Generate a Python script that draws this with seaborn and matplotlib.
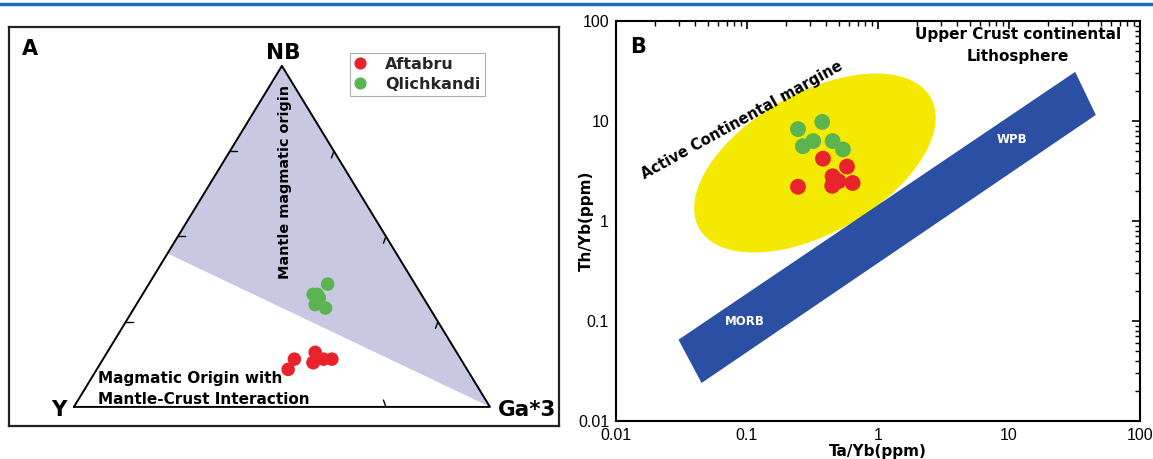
import numpy as np
import pandas as pd
import matplotlib
matplotlib.use("Agg")
import matplotlib.pyplot as plt
from matplotlib.lines import Line2D
from matplotlib.ticker import LogLocator, NullFormatter, FuncFormatter
import seaborn as sns

# ---- Panel A: ternary proportions (NB, Y, Ga*3) ----
aft_nb = [0.11, 0.14, 0.16, 0.13, 0.14, 0.14, 0.13]
aft_y = [0.43, 0.40, 0.34, 0.36, 0.33, 0.31, 0.36]
aft_ga = [0.46, 0.46, 0.50, 0.51, 0.53, 0.55, 0.51]

qli_nb = [0.33, 0.36, 0.32, 0.29, 0.30, 0.33]
qli_y = [0.26, 0.21, 0.25, 0.25, 0.27, 0.25]
qli_ga = [0.41, 0.43, 0.43, 0.46, 0.43, 0.42]

# boundary of the "Mantle magmatic origin" field on the Y-NB edge (NB fraction)
field_nb_cut = 0.45

# ---- Panel B: Ta/Yb vs Th/Yb ----
aft_tayb = [0.38, 0.245, 0.45, 0.447, 0.58, 0.64, 0.50]
aft_thyb = [4.2, 2.2, 2.8, 2.25, 3.5, 2.4, 2.5]
qli_tayb = [0.245, 0.375, 0.267, 0.32, 0.45, 0.54]
qli_thyb = [8.3, 9.8, 5.6, 6.3, 6.3, 5.2]

# MORB-WPB mantle array corners (Ta/Yb, Th/Yb)
band_tayb = [0.030, 0.045, 46, 32]
band_thyb = [0.065, 0.024, 11.5, 31]

# active continental margin ellipse: centre (Ta/Yb, Th/Yb), half axes in decades, tilt
acm_center = (0.33, 3.8)
acm_half_axes = (1.015, 0.535)
acm_tilt = 29.5

RED = "#e8232b"
GREEN = "#5bb450"
site_colors = {"Aftabru": RED, "Qlichkandi": GREEN}

sns.set_style("white")
plt.rcParams["font.family"] = ["Liberation Sans", "DejaVu Sans"]

W, H = 1153, 459
fig = plt.figure(figsize=(W / 100, H / 100), dpi=100)


def px_box(left, top, right, bottom):
    return [left / W, 1 - bottom / H, (right - left) / W, (bottom - top) / H]


# thin blue rule along the top
fig.add_artist(Line2D([0, 1], [1 - 4 / H, 1 - 4 / H], color="#1b6fbf", lw=2.5))


def tern_xy(nb, y, ga):
    nb, y, ga = map(np.asarray, (nb, y, ga))
    s = nb + y + ga
    return (ga + nb / 2) / s, nb / s


# heavy sans for the annotations
bold = dict(fontweight="bold", color="black", family="DejaVu Sans")

# ================= Panel A =================
ax1 = fig.add_axes(px_box(9, 27, 559, 426))
ax1.set_xlim(-0.156, 1.166)
ax1.set_ylim(-0.056, 1.114)
ax1.set_xticks([])
ax1.set_yticks([])
for sp in ax1.spines.values():
    sp.set_color("#222222")
    sp.set_linewidth(1.6)

# shaded mantle field
cut_x, cut_y = tern_xy(field_nb_cut, 1 - field_nb_cut, 0)
ax1.fill([0.5, 1.0, cut_x], [1.0, 0.0, cut_y], color="#c9c8e2", lw=0, zorder=1)
# triangle outline
ax1.plot([0, 1, 0.5, 0], [0, 0, 1, 0], color="black", lw=1.4, zorder=2)

# ticks along the edges at quarter positions
for f in (0.25, 0.5, 0.75):
    ax1.plot([f / 2, f / 2 + 0.018], [f, f], color="black", lw=1, zorder=2)
    rx, ry = 1 - f / 2, f
    ax1.plot([rx, rx - 0.006], [ry, ry - 0.02], color="black", lw=1, zorder=2)
ax1.plot([0.75, 0.744], [0, 0.02], color="black", lw=1, zorder=2)

ax_x, ax_y = tern_xy(aft_nb, aft_y, aft_ga)
qx, qy = tern_xy(qli_nb, qli_y, qli_ga)
df_a = pd.DataFrame({
    "x": np.concatenate([ax_x, qx]),
    "y": np.concatenate([ax_y, qy]),
    "site": ["Aftabru"] * len(ax_x) + ["Qlichkandi"] * len(qx),
})
sns.scatterplot(data=df_a, x="x", y="y", hue="site", palette=site_colors,
                s=95, edgecolor="none", ax=ax1, zorder=3)
ax1.set_xlabel("")
ax1.set_ylabel("")
sns.move_legend(ax1, "upper left", bbox_to_anchor=(0.62, 0.935), title=None,
                frameon=True, fancybox=False, edgecolor="#999999",
                prop={"weight": "bold", "size": 11.5, "family": "DejaVu Sans"},
                handlelength=0.75, handletextpad=1.2, borderpad=0.25,
                labelspacing=0.3, markerscale=0.9, borderaxespad=0)
ax1.get_legend().get_frame().set_linewidth(0.8)

ax1.text(-0.125, 1.05, "A", fontsize=15, ha="left", va="center", **bold)
ax1.text(0.502, 1.038, "NB", fontsize=15.5, ha="center", va="center", **bold)
ax1.text(-0.036, -0.008, "Y", fontsize=15.5, ha="center", va="center", **bold)
ax1.text(1.019, -0.008, "Ga*3", fontsize=15.5, ha="left", va="center", **bold)
ax1.text(0.507, 0.66, "Mantle magmatic origin", fontsize=10.4, rotation=90,
         ha="center", va="center", **bold)
ax1.text(0.058, 0.082, "Magmatic Origin with", fontsize=11, ha="left",
         va="center", **bold)
ax1.text(0.058, 0.021, "Mantle-Crust Interaction", fontsize=11, ha="left",
         va="center", **bold)

# ================= Panel B =================
ax2 = fig.add_axes(px_box(616, 21, 1140, 421))
ax2.set_xscale("log")
ax2.set_yscale("log")
ax2.set_xlim(0.01, 100)
ax2.set_ylim(0.01, 100)

# ellipse built in log space, corrected for the screen aspect of a decade
pos = ax2.get_position()
dec_aspect = (pos.width * W / 4) / (pos.height * H / 4)
t = np.linspace(0, 2 * np.pi, 300)
th = np.deg2rad(acm_tilt)
u = acm_half_axes[0] * np.cos(t)
v = acm_half_axes[1] * np.sin(t)
lx = np.log10(acm_center[0]) + u * np.cos(th) - v * np.sin(th)
ly = np.log10(acm_center[1]) + (u * np.sin(th) + v * np.cos(th)) * dec_aspect
ax2.fill(10 ** lx, 10 ** ly, color="#f4e900", lw=0, zorder=1)

ax2.fill(band_tayb, band_thyb, color="#2a4fa3", lw=0, zorder=1)

df_b = pd.DataFrame({
    "tayb": aft_tayb + qli_tayb,
    "thyb": aft_thyb + qli_thyb,
    "site": ["Aftabru"] * len(aft_tayb) + ["Qlichkandi"] * len(qli_tayb),
})
sns.scatterplot(data=df_b, x="tayb", y="thyb", hue="site", palette=site_colors,
                hue_order=["Qlichkandi", "Aftabru"], s=130, edgecolor="none",
                legend=False, ax=ax2, zorder=3)

ax2.xaxis.set_major_locator(LogLocator(base=10, numticks=10))
ax2.yaxis.set_major_locator(LogLocator(base=10, numticks=10))
ax2.xaxis.set_minor_locator(LogLocator(base=10, subs=np.arange(2, 10), numticks=10))
ax2.yaxis.set_minor_locator(LogLocator(base=10, subs=np.arange(2, 10), numticks=10))
fmt = FuncFormatter(lambda v, _: f"{v:g}")
ax2.xaxis.set_major_formatter(fmt)
ax2.yaxis.set_major_formatter(fmt)
ax2.xaxis.set_minor_formatter(NullFormatter())
ax2.yaxis.set_minor_formatter(NullFormatter())
ax2.tick_params(which="both", direction="in", top=True, right=True,
                colors="black", labelsize=11.5)
ax2.tick_params(which="major", length=6, width=1.2, pad=5)
ax2.tick_params(which="minor", length=3.5, width=1)
for sp in ax2.spines.values():
    sp.set_color("black")
    sp.set_linewidth(1.5)

ax2.set_xlabel("Ta/Yb(ppm)", fontsize=11, **bold)
ax2.set_ylabel("Th/Yb(ppm)", fontsize=11, **bold)
ax2.xaxis.set_label_coords(0.5, -0.058)
ax2.yaxis.set_label_coords(-0.043, 0.5)

ax2.text(0.027, 0.935, "B", transform=ax2.transAxes, fontsize=15,
         ha="left", va="center", **bold)
ax2.text(0.767, 0.965, "Upper Crust continental", transform=ax2.transAxes,
         fontsize=11, ha="center", va="center", **bold)
ax2.text(0.767, 0.91, "Lithosphere", transform=ax2.transAxes,
         fontsize=11, ha="center", va="center", **bold)
ax2.text(0.24, 0.7525, "Active Continental margine", transform=ax2.transAxes,
         fontsize=10.6, rotation=29, rotation_mode="anchor", ha="center",
         va="center", **bold)
ax2.text(0.097, 0.098, "MORB", fontsize=8.5, fontweight="bold", color="white",
         family="DejaVu Sans", ha="center", va="center", zorder=4)
ax2.text(10.5, 6.5, "WPB", fontsize=8.5, fontweight="bold", color="white",
         family="DejaVu Sans", ha="center", va="center", zorder=4)

fig.savefig("out.png", dpi=100)
